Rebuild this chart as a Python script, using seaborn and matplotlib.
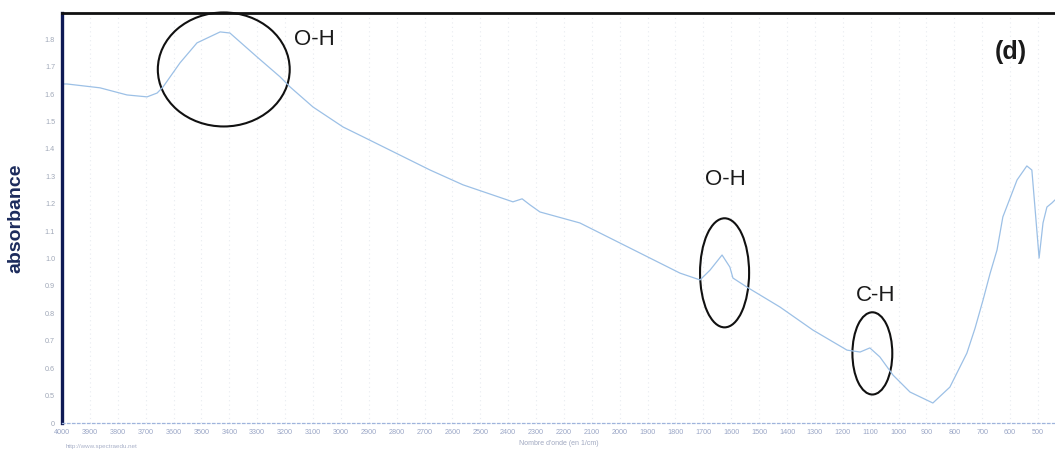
import numpy as np
import pandas as pd
import matplotlib
matplotlib.use("Agg")
import matplotlib.pyplot as plt
from matplotlib.patches import Ellipse
from matplotlib.ticker import FixedLocator, FixedFormatter
import seaborn as sns

# FTIR absorbance spectrum, wavenumber in cm-1
wavenumber = [4000, 3982, 3864, 3767, 3695, 3659, 3638, 3577, 3516, 3433,
              3398, 3301, 3218, 3182, 3100, 2992, 2920, 2680, 2562, 2383,
              2350, 2322, 2286, 2143, 2035, 1784, 1712, 1676, 1633, 1605,
              1594, 1544, 1425, 1307, 1185, 1138, 1103, 1067, 1020, 959,
              877, 816, 755, 726, 697, 672, 647, 626, 575, 540, 522, 511,
              496, 482, 468, 450, 439]
absorbance = [1.637, 1.637, 1.623, 1.597, 1.590, 1.604, 1.626, 1.714, 1.787, 1.827,
              1.823, 1.736, 1.663, 1.626, 1.553, 1.480, 1.444, 1.323, 1.269, 1.207,
              1.218, 1.196, 1.170, 1.130, 1.075, 0.947, 0.922, 0.958, 1.013, 0.969,
              0.929, 0.896, 0.823, 0.739, 0.666, 0.659, 0.674, 0.641, 0.575, 0.513,
              0.473, 0.531, 0.655, 0.745, 0.849, 0.945, 1.031, 1.152, 1.287, 1.338,
              1.323, 1.188, 1.002, 1.130, 1.188, 1.203, 1.214]

# Band assignments: label, circle centre (wavenumber, absorbance), circle size
band_labels = ["O-H", "O-H", "C-H"]
band_centres = [(3420, 1.69), (1624, 0.948), (1094, 0.654)]
band_sizes = [(473, 0.416), (176, 0.398), (143, 0.30)]
label_pos = [(3095, 1.80), (1622, 1.29), (1082, 0.864)]

x_ticks = list(range(4000, 499, -100))
y_ticks = [0.4, 0.5, 0.6, 0.7, 0.8, 0.9, 1.0, 1.1, 1.2, 1.3, 1.4, 1.5, 1.6, 1.7, 1.8]
y_tick_labels = ["0", "0.5", "0.6", "0.7", "0.8", "0.9", "1.0", "1.1", "1.2",
                 "1.3", "1.4", "1.5", "1.6", "1.7", "1.8"]

sns.set_style("white")
plt.rcParams["font.family"] = ["Liberation Sans", "DejaVu Sans"]

fig = plt.figure(figsize=(10.55, 4.53), dpi=100)
ax = fig.add_axes([0.0588, 0.0662, 0.9412, 0.9051])

df = pd.DataFrame({"wavenumber": wavenumber, "absorbance": absorbance})
sns.lineplot(data=df, x="wavenumber", y="absorbance", ax=ax, color="#9cc0e6",
             linewidth=0.9, sort=False, estimator=None)

ax.set_xlim(4000, 439)
ax.set_ylim(0.4, 1.896)

# faint vertical grid
ax.xaxis.set_major_locator(FixedLocator(x_ticks))
ax.set_xticklabels([str(t) for t in x_ticks])
ax.grid(axis="x", color="#e8ebf0", linestyle=(0, (1, 3)), linewidth=0.8)
ax.grid(axis="y", visible=False)

ax.yaxis.set_major_locator(FixedLocator(y_ticks))
ax.yaxis.set_major_formatter(FixedFormatter(y_tick_labels))

ax.tick_params(axis="x", labelsize=5.2, colors="#9aa6c6", direction="inout",
               length=5, width=0.8, pad=2)
ax.tick_params(axis="y", labelsize=5.2, colors="#a0a8b8", direction="out",
               length=3, width=0.8, pad=2)

ax.set_xlabel("Nombre d'onde (en 1/cm)", fontsize=5, color="#a0a8c0", labelpad=3)
ax.set_ylabel("absorbance", fontsize=14, fontweight="bold", color="#1c2b5c",
              labelpad=15)

ax.spines["right"].set_visible(False)
ax.spines["left"].set_color("#0f1a55")
ax.spines["left"].set_linewidth(2.4)
ax.spines["top"].set_color("#111111")
ax.spines["top"].set_linewidth(2.0)
ax.spines["bottom"].set_color("#9fb4dc")
ax.spines["bottom"].set_linewidth(0.9)
ax.spines["bottom"].set_linestyle((0, (2, 2)))

# circled bands with their assignment
for lab, (cx, cy), (w, h), (lx, ly) in zip(band_labels, band_centres, band_sizes, label_pos):
    ax.add_patch(Ellipse((cx, cy), w, h, fill=False, edgecolor="#111111",
                         linewidth=1.5, clip_on=False))
    ax.text(lx, ly, lab, fontsize=16, color="#1a1a1a", ha="center", va="center")

ax.text(0.956, 0.905, "(d)", transform=ax.transAxes, fontsize=18,
        fontweight="bold", color="#1a1a1a", ha="center", va="center")

fig.text(0.062, 0.008, "http://www.spectraedu.net", fontsize=4.5, color="#a8b0c8",
         ha="left", va="bottom")

fig.savefig("out.png", dpi=100)
